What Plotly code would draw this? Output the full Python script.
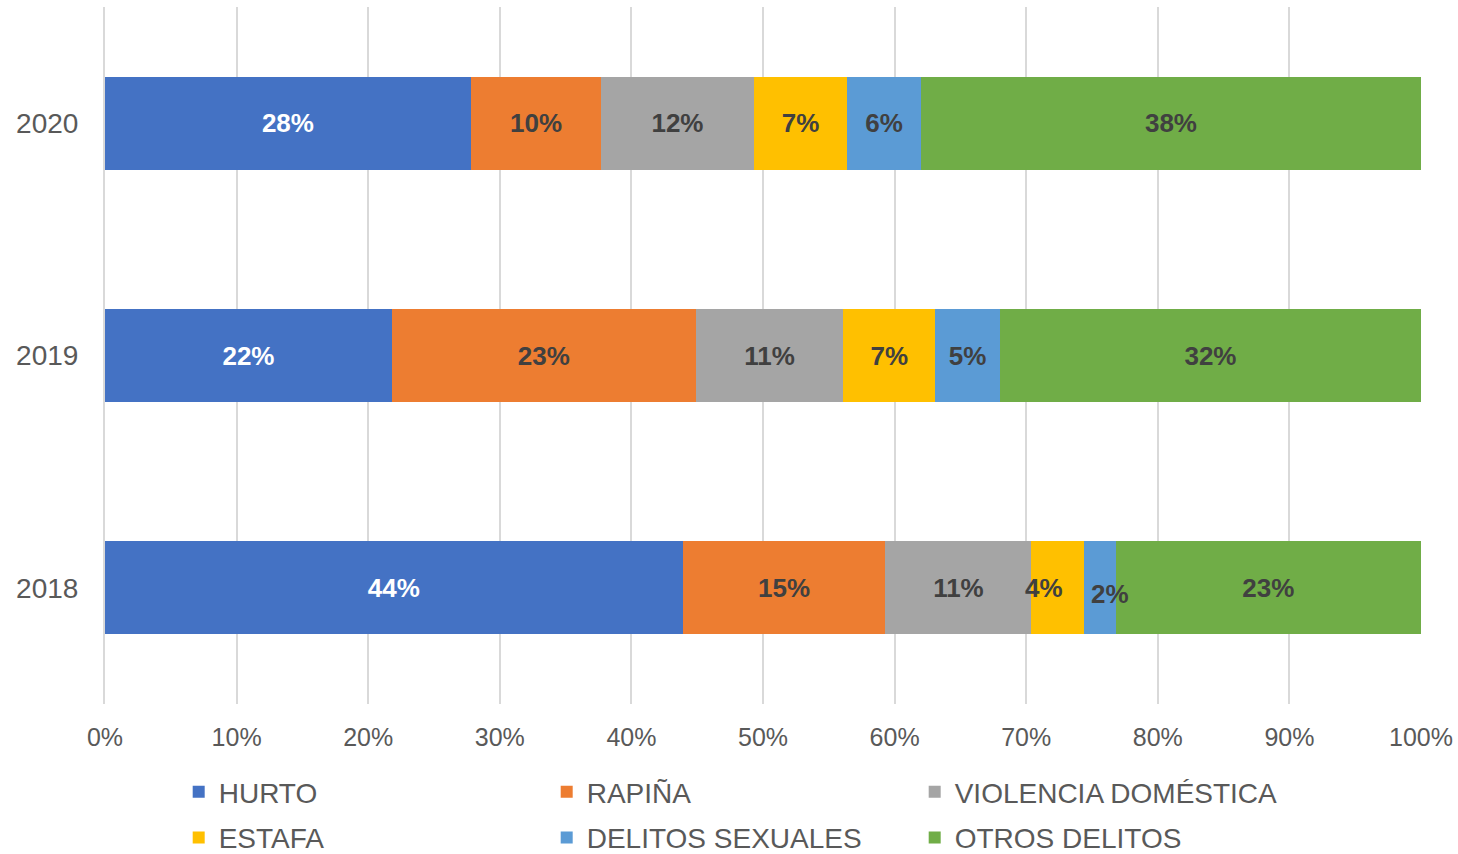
import plotly.graph_objects as go

years = ["2018", "2019", "2020"]
series_names = ["HURTO", "RAPIÑA", "VIOLENCIA DOMÉSTICA", "ESTAFA", "DELITOS SEXUALES", "OTROS DELITOS"]
hurto = [43.9, 21.8, 27.8]
rapina = [15.4, 23.1, 9.9]
violencia = [11.1, 11.2, 11.6]
estafa = [4.0, 7.0, 7.1]
delitos_sexuales = [2.4, 4.9, 5.6]
otros = [23.2, 32.0, 38.0]
x_ticks = [0, 10, 20, 30, 40, 50, 60, 70, 80, 90, 100]
x_tick_labels = [f"{v}%" for v in x_ticks]

colors = ["#4472C4", "#ED7D31", "#A5A5A5", "#FFC000", "#5B9BD5", "#70AD47"]
label_colors = ["#FFFFFF", "#404040", "#404040", "#404040", "#404040", "#404040"]
legend_ids = ["legend", "legend", "legend", "legend2", "legend2", "legend2"]
all_values = [hurto, rapina, violencia, estafa, delitos_sexuales, otros]

# labels in narrow 2018 segments are nudged (as in the source chart)
nudged = {(3, 0): (13, 0), (4, 0): (10, -6)}

FONT = "Liberation Sans, Arial, sans-serif"
LABEL_FONT_SIZE = 26

fig = go.Figure()
cum = [0.0] * len(years)
annotations = []
for si, (name, vals, col, lc, lg) in enumerate(zip(series_names, all_values, colors, label_colors, legend_ids)):
    texts = []
    for yi, v in enumerate(vals):
        if (si, yi) in nudged:
            texts.append("")
            dx, dy = nudged[(si, yi)]
            anchor_x = cum[yi] if si == 3 else cum[yi] + v / 2
            annotations.append(dict(x=anchor_x, y=yi, xref="x", yref="y", text=f"{v:.0f}%",
                                    showarrow=False, xanchor="center", yanchor="middle",
                                    xshift=dx, yshift=dy,
                                    font=dict(family=FONT, size=LABEL_FONT_SIZE, color=lc, weight="bold")))
        else:
            texts.append(f"{v:.0f}%")
    fig.add_trace(go.Bar(
        y=years, x=vals, name=name, orientation="h", legend=lg,
        marker=dict(color=col, line=dict(width=0)),
        text=texts, texttemplate="%{text}", textposition="inside", textangle=0,
        insidetextanchor="middle", constraintext="none",
        textfont=dict(family=FONT, size=LABEL_FONT_SIZE, color=lc, weight="bold"),
        hoverinfo="skip",
    ))
    cum = [c + v for c, v in zip(cum, vals)]

legend_common = dict(orientation="h", xanchor="left", yanchor="middle", yref="container",
                     entrywidth=323, entrywidthmode="pixels", traceorder="normal",
                     font=dict(size=28, color="#595959"), itemclick=False,
                     bgcolor="rgba(0,0,0,0)")

fig.update_layout(
    width=1458, height=854,
    barmode="stack", bargap=0.6,
    plot_bgcolor="white", paper_bgcolor="white",
    margin=dict(l=105, r=37, t=7, b=150, autoexpand=False),
    font=dict(family=FONT, color="#595959"),
    xaxis=dict(range=[0, 100], tickvals=x_ticks, ticktext=x_tick_labels,
               showgrid=True, gridcolor="#D9D9D9", gridwidth=2,
               zeroline=False, showline=False, ticklabeloverflow="allow",
               tickfont=dict(size=25, color="#595959"), ticklabelstandoff=16),
    yaxis=dict(type="category", categoryorder="array", categoryarray=years,
               range=[-0.5, len(years) - 0.5],
               showgrid=False, zeroline=False, showline=True, linecolor="#D9D9D9", linewidth=2,
               tickfont=dict(size=28, color="#595959"), ticklabelstandoff=19),
    showlegend=True,
    legend=dict(x=0.056, y=0.0726, **legend_common),
    legend2=dict(x=0.056, y=0.019, **legend_common),
    annotations=annotations,
)

fig.write_html(
    "out.html",
    config={"displayModeBar": False},
    post_script="document.body.style.margin='0';document.documentElement.style.overflow='hidden';",
)
